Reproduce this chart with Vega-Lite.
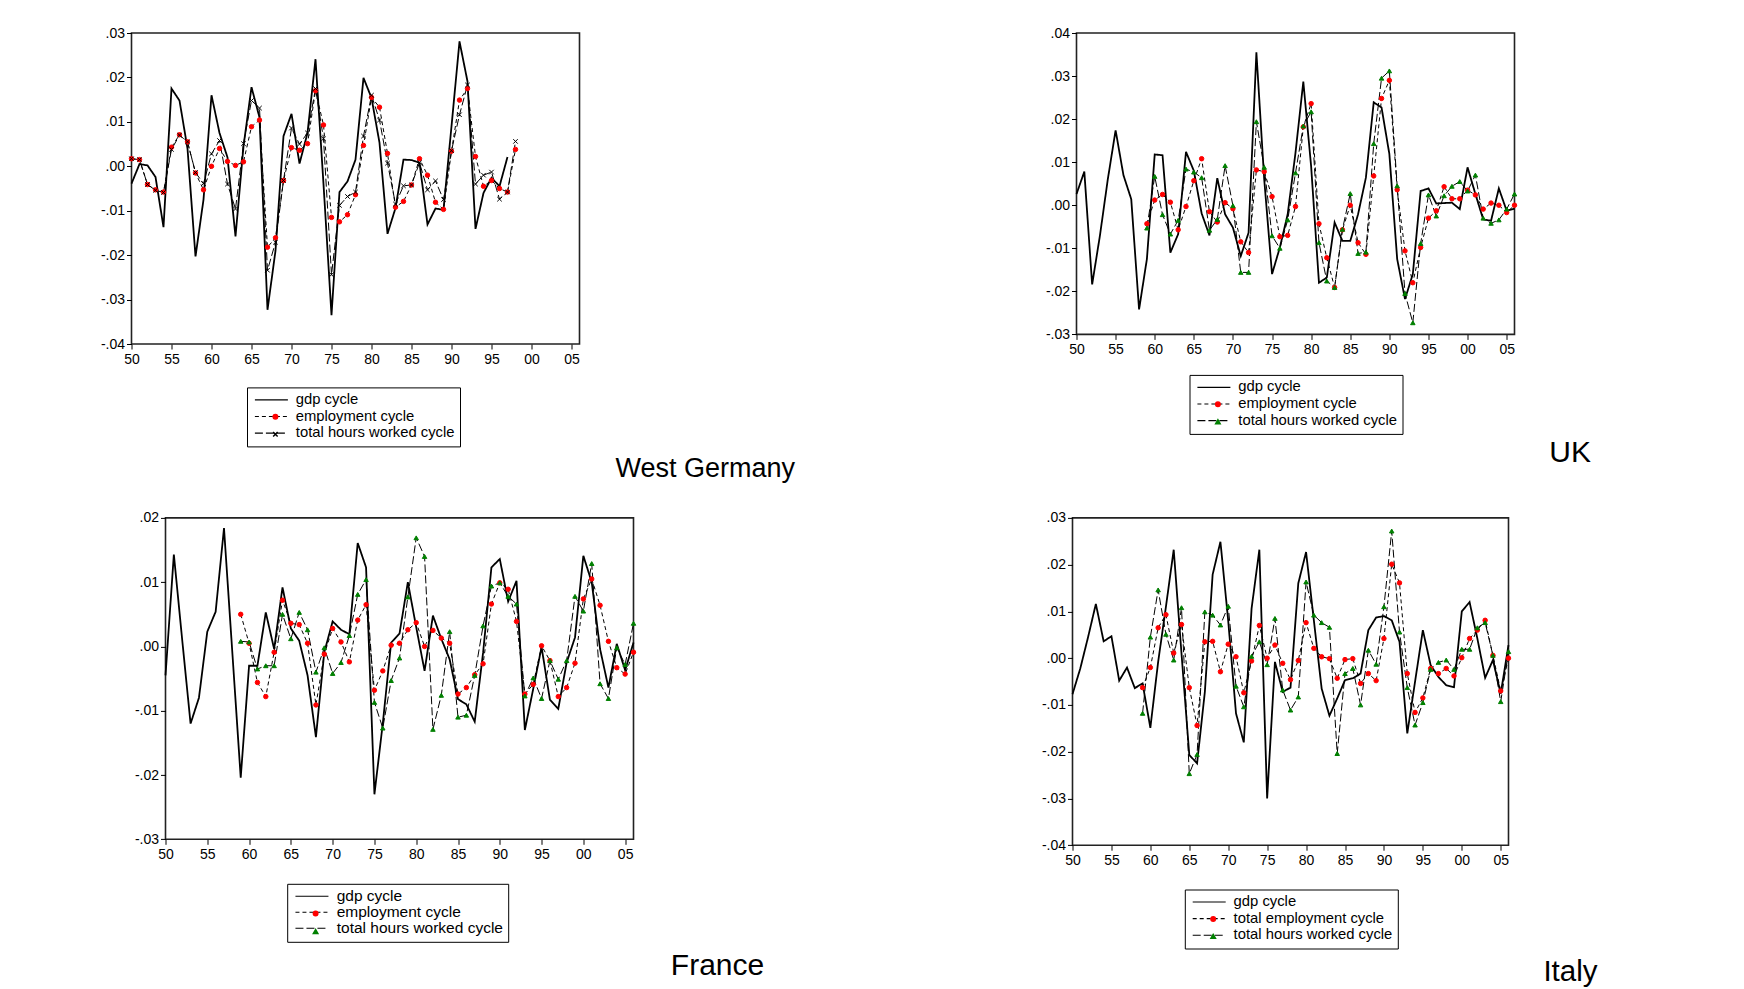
{
  "$schema": "https://vega.github.io/schema/vega-lite/v6.json",
  "padding": {"left": 89.5, "top": 25, "right": 5, "bottom": 0},
  "datasets": {
    "westGermany": [
      {"year":1950,"gdp cycle":-0.0039,"employment cycle":0.0017,"total hours worked cycle":0.0017},
      {"year":1951,"gdp cycle":0.0005,"employment cycle":0.0015,"total hours worked cycle":0.0015},
      {"year":1952,"gdp cycle":0.0002,"employment cycle":-0.0041,"total hours worked cycle":-0.0041},
      {"year":1953,"gdp cycle":-0.0024,"employment cycle":-0.0053,"total hours worked cycle":-0.0054},
      {"year":1954,"gdp cycle":-0.0137,"employment cycle":-0.0058,"total hours worked cycle":-0.0059},
      {"year":1955,"gdp cycle":0.0175,"employment cycle":0.0043,"total hours worked cycle":0.0038},
      {"year":1956,"gdp cycle":0.0148,"employment cycle":0.0071,"total hours worked cycle":0.0070},
      {"year":1957,"gdp cycle":0.0040,"employment cycle":0.0055,"total hours worked cycle":0.0055},
      {"year":1958,"gdp cycle":-0.0203,"employment cycle":-0.0015,"total hours worked cycle":-0.0014},
      {"year":1959,"gdp cycle":-0.0075,"employment cycle":-0.0053,"total hours worked cycle":-0.0039},
      {"year":1960,"gdp cycle":0.0160,"employment cycle":0.0000,"total hours worked cycle":0.0028},
      {"year":1961,"gdp cycle":0.0075,"employment cycle":0.0040,"total hours worked cycle":0.0058},
      {"year":1962,"gdp cycle":0.0020,"employment cycle":0.0011,"total hours worked cycle":-0.0040},
      {"year":1963,"gdp cycle":-0.0158,"employment cycle":0.0002,"total hours worked cycle":-0.0096},
      {"year":1964,"gdp cycle":0.0045,"employment cycle":0.0010,"total hours worked cycle":0.0051},
      {"year":1965,"gdp cycle":0.0178,"employment cycle":0.0089,"total hours worked cycle":0.0148},
      {"year":1966,"gdp cycle":0.0110,"employment cycle":0.0104,"total hours worked cycle":0.0131},
      {"year":1967,"gdp cycle":-0.0323,"employment cycle":-0.0182,"total hours worked cycle":-0.0234},
      {"year":1968,"gdp cycle":-0.0190,"employment cycle":-0.0161,"total hours worked cycle":-0.0171},
      {"year":1969,"gdp cycle":0.0068,"employment cycle":-0.0032,"total hours worked cycle":-0.0032},
      {"year":1970,"gdp cycle":0.0118,"employment cycle":0.0042,"total hours worked cycle":0.0086},
      {"year":1971,"gdp cycle":0.0006,"employment cycle":0.0036,"total hours worked cycle":0.0050},
      {"year":1972,"gdp cycle":0.0075,"employment cycle":0.0051,"total hours worked cycle":0.0075},
      {"year":1973,"gdp cycle":0.0241,"employment cycle":0.0170,"total hours worked cycle":0.0175},
      {"year":1974,"gdp cycle":-0.0040,"employment cycle":0.0093,"total hours worked cycle":0.0062},
      {"year":1975,"gdp cycle":-0.0335,"employment cycle":-0.0115,"total hours worked cycle":-0.0244},
      {"year":1976,"gdp cycle":-0.0058,"employment cycle":-0.0125,"total hours worked cycle":-0.0088},
      {"year":1977,"gdp cycle":-0.0034,"employment cycle":-0.0109,"total hours worked cycle":-0.0068},
      {"year":1978,"gdp cycle":0.0015,"employment cycle":-0.0064,"total hours worked cycle":-0.0058},
      {"year":1979,"gdp cycle":0.0199,"employment cycle":0.0047,"total hours worked cycle":0.0068},
      {"year":1980,"gdp cycle":0.0154,"employment cycle":0.0155,"total hours worked cycle":0.0160},
      {"year":1981,"gdp cycle":0.0053,"employment cycle":0.0133,"total hours worked cycle":0.0104},
      {"year":1982,"gdp cycle":-0.0152,"employment cycle":0.0029,"total hours worked cycle":0.0007},
      {"year":1983,"gdp cycle":-0.0094,"employment cycle":-0.0092,"total hours worked cycle":-0.0085},
      {"year":1984,"gdp cycle":0.0015,"employment cycle":-0.0079,"total hours worked cycle":-0.0044},
      {"year":1985,"gdp cycle":0.0014,"employment cycle":-0.0042,"total hours worked cycle":-0.0042},
      {"year":1986,"gdp cycle":0.0008,"employment cycle":0.0017,"total hours worked cycle":0.0008},
      {"year":1987,"gdp cycle":-0.0131,"employment cycle":-0.0020,"total hours worked cycle":-0.0053},
      {"year":1988,"gdp cycle":-0.0095,"employment cycle":-0.0081,"total hours worked cycle":-0.0033},
      {"year":1989,"gdp cycle":-0.0098,"employment cycle":-0.0097,"total hours worked cycle":-0.0075},
      {"year":1990,"gdp cycle":0.0090,"employment cycle":0.0034,"total hours worked cycle":0.0035},
      {"year":1991,"gdp cycle":0.0281,"employment cycle":0.0149,"total hours worked cycle":0.0116},
      {"year":1992,"gdp cycle":0.0191,"employment cycle":0.0175,"total hours worked cycle":0.0183},
      {"year":1993,"gdp cycle":-0.0141,"employment cycle":0.0022,"total hours worked cycle":-0.0040},
      {"year":1994,"gdp cycle":-0.0060,"employment cycle":-0.0045,"total hours worked cycle":-0.0020},
      {"year":1995,"gdp cycle":-0.0026,"employment cycle":-0.0032,"total hours worked cycle":-0.0013},
      {"year":1996,"gdp cycle":-0.0045,"employment cycle":-0.0050,"total hours worked cycle":-0.0074},
      {"year":1997,"gdp cycle":0.0021,"employment cycle":-0.0058,"total hours worked cycle":-0.0058},
      {"year":1998,"employment cycle":0.0038,"total hours worked cycle":0.0056}
    ],
    "uk": [
      {"year":1950,"gdp cycle":0.0026},
      {"year":1951,"gdp cycle":0.0078},
      {"year":1952,"gdp cycle":-0.0184},
      {"year":1953,"gdp cycle":-0.0070},
      {"year":1954,"gdp cycle":0.0060},
      {"year":1955,"gdp cycle":0.0174},
      {"year":1956,"gdp cycle":0.0070},
      {"year":1957,"gdp cycle":0.0014},
      {"year":1958,"gdp cycle":-0.0242},
      {"year":1959,"gdp cycle":-0.0125,"employment cycle":-0.0043,"total hours worked cycle":-0.0053},
      {"year":1960,"gdp cycle":0.0118,"employment cycle":0.0012,"total hours worked cycle":0.0067},
      {"year":1961,"gdp cycle":0.0116,"employment cycle":0.0025,"total hours worked cycle":-0.0022},
      {"year":1962,"gdp cycle":-0.0110,"employment cycle":0.0007,"total hours worked cycle":-0.0067},
      {"year":1963,"gdp cycle":-0.0067,"employment cycle":-0.0057,"total hours worked cycle":-0.0035},
      {"year":1964,"gdp cycle":0.0124,"employment cycle":-0.0003,"total hours worked cycle":0.0084},
      {"year":1965,"gdp cycle":0.0080,"employment cycle":0.0057,"total hours worked cycle":0.0077},
      {"year":1966,"gdp cycle":-0.0019,"employment cycle":0.0108,"total hours worked cycle":0.0064},
      {"year":1967,"gdp cycle":-0.0070,"employment cycle":-0.0015,"total hours worked cycle":-0.0058},
      {"year":1968,"gdp cycle":0.0063,"employment cycle":-0.0039,"total hours worked cycle":-0.0033},
      {"year":1969,"gdp cycle":-0.0021,"employment cycle":0.0006,"total hours worked cycle":0.0092},
      {"year":1970,"gdp cycle":-0.0052,"employment cycle":-0.0008,"total hours worked cycle":-0.0001},
      {"year":1971,"gdp cycle":-0.0118,"employment cycle":-0.0085,"total hours worked cycle":-0.0156},
      {"year":1972,"gdp cycle":-0.0064,"employment cycle":-0.0110,"total hours worked cycle":-0.0156},
      {"year":1973,"gdp cycle":0.0355,"employment cycle":0.0082,"total hours worked cycle":0.0194},
      {"year":1974,"gdp cycle":0.0060,"employment cycle":0.0078,"total hours worked cycle":0.0088},
      {"year":1975,"gdp cycle":-0.0160,"employment cycle":0.0020,"total hours worked cycle":-0.0071},
      {"year":1976,"gdp cycle":-0.0098,"employment cycle":-0.0073,"total hours worked cycle":-0.0100},
      {"year":1977,"gdp cycle":-0.0021,"employment cycle":-0.0070,"total hours worked cycle":-0.0034},
      {"year":1978,"gdp cycle":0.0122,"employment cycle":-0.0003,"total hours worked cycle":0.0075},
      {"year":1979,"gdp cycle":0.0287,"employment cycle":0.0182,"total hours worked cycle":0.0184},
      {"year":1980,"gdp cycle":0.0090,"employment cycle":0.0236,"total hours worked cycle":0.0217},
      {"year":1981,"gdp cycle":-0.0180,"employment cycle":-0.0043,"total hours worked cycle":-0.0087},
      {"year":1982,"gdp cycle":-0.0168,"employment cycle":-0.0122,"total hours worked cycle":-0.0176},
      {"year":1983,"gdp cycle":-0.0040,"employment cycle":-0.0191,"total hours worked cycle":-0.0191},
      {"year":1984,"gdp cycle":-0.0083,"employment cycle":-0.0057,"total hours worked cycle":-0.0056},
      {"year":1985,"gdp cycle":-0.0083,"employment cycle":0.0000,"total hours worked cycle":0.0027},
      {"year":1986,"gdp cycle":-0.0021,"employment cycle":-0.0087,"total hours worked cycle":-0.0112},
      {"year":1987,"gdp cycle":0.0064,"employment cycle":-0.0114,"total hours worked cycle":-0.0109},
      {"year":1988,"gdp cycle":0.0239,"employment cycle":0.0068,"total hours worked cycle":0.0143},
      {"year":1989,"gdp cycle":0.0227,"employment cycle":0.0248,"total hours worked cycle":0.0295},
      {"year":1990,"gdp cycle":0.0119,"employment cycle":0.0290,"total hours worked cycle":0.0312},
      {"year":1991,"gdp cycle":-0.0125,"employment cycle":0.0036,"total hours worked cycle":0.0045},
      {"year":1992,"gdp cycle":-0.0218,"employment cycle":-0.0106,"total hours worked cycle":-0.0205},
      {"year":1993,"gdp cycle":-0.0160,"employment cycle":-0.0180,"total hours worked cycle":-0.0273},
      {"year":1994,"gdp cycle":0.0033,"employment cycle":-0.0098,"total hours worked cycle":-0.0089},
      {"year":1995,"gdp cycle":0.0039,"employment cycle":-0.0030,"total hours worked cycle":0.0024},
      {"year":1996,"gdp cycle":0.0004,"employment cycle":-0.0013,"total hours worked cycle":-0.0025},
      {"year":1997,"gdp cycle":0.0005,"employment cycle":0.0043,"total hours worked cycle":0.0022},
      {"year":1998,"gdp cycle":0.0006,"employment cycle":0.0015,"total hours worked cycle":0.0044},
      {"year":1999,"gdp cycle":-0.0009,"employment cycle":0.0015,"total hours worked cycle":0.0055},
      {"year":2000,"gdp cycle":0.0088,"employment cycle":0.0035,"total hours worked cycle":0.0033},
      {"year":2001,"gdp cycle":0.0026,"employment cycle":0.0024,"total hours worked cycle":0.0070},
      {"year":2002,"gdp cycle":-0.0033,"employment cycle":-0.0009,"total hours worked cycle":-0.0030},
      {"year":2003,"gdp cycle":-0.0036,"employment cycle":0.0005,"total hours worked cycle":-0.0042},
      {"year":2004,"gdp cycle":0.0039,"employment cycle":0.0000,"total hours worked cycle":-0.0034},
      {"year":2005,"gdp cycle":-0.0013,"employment cycle":-0.0017,"total hours worked cycle":-0.0009},
      {"year":2006,"gdp cycle":-0.0008,"employment cycle":0.0000,"total hours worked cycle":0.0026}
    ],
    "france": [
      {"year":1950,"gdp cycle":-0.0045},
      {"year":1951,"gdp cycle":0.0143},
      {"year":1952,"gdp cycle":0.0010},
      {"year":1953,"gdp cycle":-0.0120},
      {"year":1954,"gdp cycle":-0.0080},
      {"year":1955,"gdp cycle":0.0023},
      {"year":1956,"gdp cycle":0.0054},
      {"year":1957,"gdp cycle":0.0184},
      {"year":1958,"gdp cycle":-0.0010},
      {"year":1959,"gdp cycle":-0.0204,"employment cycle":0.0050,"total hours worked cycle":0.0008},
      {"year":1960,"gdp cycle":-0.0030,"employment cycle":0.0005,"total hours worked cycle":0.0007},
      {"year":1961,"gdp cycle":-0.0030,"employment cycle":-0.0056,"total hours worked cycle":-0.0035},
      {"year":1962,"gdp cycle":0.0053,"employment cycle":-0.0078,"total hours worked cycle":-0.0030},
      {"year":1963,"gdp cycle":-0.0004,"employment cycle":-0.0009,"total hours worked cycle":-0.0030},
      {"year":1964,"gdp cycle":0.0092,"employment cycle":0.0072,"total hours worked cycle":0.0050},
      {"year":1965,"gdp cycle":0.0028,"employment cycle":0.0036,"total hours worked cycle":0.0012},
      {"year":1966,"gdp cycle":0.0009,"employment cycle":0.0034,"total hours worked cycle":0.0053},
      {"year":1967,"gdp cycle":-0.0045,"employment cycle":0.0005,"total hours worked cycle":0.0026},
      {"year":1968,"gdp cycle":-0.0141,"employment cycle":-0.0091,"total hours worked cycle":-0.0040},
      {"year":1969,"gdp cycle":-0.0009,"employment cycle":-0.0012,"total hours worked cycle":-0.0002},
      {"year":1970,"gdp cycle":0.0039,"employment cycle":0.0028,"total hours worked cycle":-0.0042},
      {"year":1971,"gdp cycle":0.0026,"employment cycle":0.0007,"total hours worked cycle":-0.0025},
      {"year":1972,"gdp cycle":0.0019,"employment cycle":-0.0024,"total hours worked cycle":0.0017},
      {"year":1973,"gdp cycle":0.0161,"employment cycle":0.0041,"total hours worked cycle":0.0081},
      {"year":1974,"gdp cycle":0.0123,"employment cycle":0.0065,"total hours worked cycle":0.0104},
      {"year":1975,"gdp cycle":-0.0230,"employment cycle":-0.0068,"total hours worked cycle":-0.0087},
      {"year":1976,"gdp cycle":-0.0120,"employment cycle":-0.0038,"total hours worked cycle":-0.0127},
      {"year":1977,"gdp cycle":0.0006,"employment cycle":0.0002,"total hours worked cycle":-0.0053},
      {"year":1978,"gdp cycle":0.0020,"employment cycle":0.0005,"total hours worked cycle":-0.0018},
      {"year":1979,"gdp cycle":0.0100,"employment cycle":0.0026,"total hours worked cycle":0.0077},
      {"year":1980,"gdp cycle":0.0030,"employment cycle":0.0037,"total hours worked cycle":0.0169},
      {"year":1981,"gdp cycle":-0.0038,"employment cycle":0.0000,"total hours worked cycle":0.0140},
      {"year":1982,"gdp cycle":0.0048,"employment cycle":0.0025,"total hours worked cycle":-0.0129},
      {"year":1983,"gdp cycle":0.0012,"employment cycle":0.0013,"total hours worked cycle":-0.0076},
      {"year":1984,"gdp cycle":-0.0020,"employment cycle":0.0005,"total hours worked cycle":0.0023},
      {"year":1985,"gdp cycle":-0.0082,"employment cycle":-0.0074,"total hours worked cycle":-0.0110},
      {"year":1986,"gdp cycle":-0.0090,"employment cycle":-0.0064,"total hours worked cycle":-0.0107},
      {"year":1987,"gdp cycle":-0.0117,"employment cycle":-0.0044,"total hours worked cycle":-0.0045},
      {"year":1988,"gdp cycle":-0.0010,"employment cycle":-0.0027,"total hours worked cycle":0.0032},
      {"year":1989,"gdp cycle":0.0123,"employment cycle":0.0066,"total hours worked cycle":0.0094},
      {"year":1990,"gdp cycle":0.0136,"employment cycle":0.0099,"total hours worked cycle":0.0099},
      {"year":1991,"gdp cycle":0.0070,"employment cycle":0.0089,"total hours worked cycle":0.0078},
      {"year":1992,"gdp cycle":0.0102,"employment cycle":0.0039,"total hours worked cycle":0.0066},
      {"year":1993,"gdp cycle":-0.0130,"employment cycle":-0.0074,"total hours worked cycle":-0.0077},
      {"year":1994,"gdp cycle":-0.0066,"employment cycle":-0.0059,"total hours worked cycle":-0.0049},
      {"year":1995,"gdp cycle":-0.0001,"employment cycle":0.0001,"total hours worked cycle":-0.0081},
      {"year":1996,"gdp cycle":-0.0083,"employment cycle":-0.0022,"total hours worked cycle":-0.0022},
      {"year":1997,"gdp cycle":-0.0097,"employment cycle":-0.0078,"total hours worked cycle":-0.0051},
      {"year":1998,"gdp cycle":-0.0025,"employment cycle":-0.0064,"total hours worked cycle":-0.0022},
      {"year":1999,"gdp cycle":0.0014,"employment cycle":-0.0026,"total hours worked cycle":0.0078},
      {"year":2000,"gdp cycle":0.0141,"employment cycle":0.0074,"total hours worked cycle":0.0055},
      {"year":2001,"gdp cycle":0.0100,"employment cycle":0.0105,"total hours worked cycle":0.0129},
      {"year":2002,"gdp cycle":-0.0004,"employment cycle":0.0064,"total hours worked cycle":-0.0058},
      {"year":2003,"gdp cycle":-0.0064,"employment cycle":0.0008,"total hours worked cycle":-0.0081},
      {"year":2004,"gdp cycle":0.0004,"employment cycle":-0.0033,"total hours worked cycle":-0.0002},
      {"year":2005,"gdp cycle":-0.0037,"employment cycle":-0.0043,"total hours worked cycle":-0.0028},
      {"year":2006,"gdp cycle":0.0006,"employment cycle":-0.0009,"total hours worked cycle":0.0036}
    ],
    "italy": [
      {"year":1950,"gdp cycle":-0.0077},
      {"year":1951,"gdp cycle":-0.0022},
      {"year":1952,"gdp cycle":0.0045},
      {"year":1953,"gdp cycle":0.0116},
      {"year":1954,"gdp cycle":0.0036},
      {"year":1955,"gdp cycle":0.0047},
      {"year":1956,"gdp cycle":-0.0048},
      {"year":1957,"gdp cycle":-0.0020},
      {"year":1958,"gdp cycle":-0.0064},
      {"year":1959,"gdp cycle":-0.0054,"total employment cycle":-0.0063,"total hours worked cycle":-0.0118},
      {"year":1960,"gdp cycle":-0.0149,"total employment cycle":-0.0020,"total hours worked cycle":0.0045},
      {"year":1961,"gdp cycle":-0.0008,"total employment cycle":0.0065,"total hours worked cycle":0.0146},
      {"year":1962,"gdp cycle":0.0110,"total employment cycle":0.0093,"total hours worked cycle":0.0051},
      {"year":1963,"gdp cycle":0.0232,"total employment cycle":0.0011,"total hours worked cycle":-0.0004},
      {"year":1964,"gdp cycle":0.0010,"total employment cycle":0.0072,"total hours worked cycle":0.0108},
      {"year":1965,"gdp cycle":-0.0207,"total employment cycle":-0.0063,"total hours worked cycle":-0.0247},
      {"year":1966,"gdp cycle":-0.0225,"total employment cycle":-0.0144,"total hours worked cycle":-0.0206},
      {"year":1967,"gdp cycle":-0.0072,"total employment cycle":0.0035,"total hours worked cycle":0.0099},
      {"year":1968,"gdp cycle":0.0179,"total employment cycle":0.0036,"total hours worked cycle":0.0092},
      {"year":1969,"gdp cycle":0.0249,"total employment cycle":-0.0029,"total hours worked cycle":0.0071},
      {"year":1970,"gdp cycle":0.0080,"total employment cycle":0.0030,"total hours worked cycle":0.0111},
      {"year":1971,"gdp cycle":-0.0118,"total employment cycle":0.0003,"total hours worked cycle":-0.0060},
      {"year":1972,"gdp cycle":-0.0180,"total employment cycle":-0.0074,"total hours worked cycle":-0.0104},
      {"year":1973,"gdp cycle":0.0106,"total employment cycle":-0.0006,"total hours worked cycle":0.0004},
      {"year":1974,"gdp cycle":0.0232,"total employment cycle":0.0070,"total hours worked cycle":0.0035},
      {"year":1975,"gdp cycle":-0.0300,"total employment cycle":0.0000,"total hours worked cycle":-0.0014},
      {"year":1976,"gdp cycle":-0.0008,"total employment cycle":0.0028,"total hours worked cycle":0.0085},
      {"year":1977,"gdp cycle":-0.0072,"total employment cycle":-0.0011,"total hours worked cycle":-0.0068},
      {"year":1978,"gdp cycle":-0.0063,"total employment cycle":-0.0046,"total hours worked cycle":-0.0111},
      {"year":1979,"gdp cycle":0.0160,"total employment cycle":-0.0005,"total hours worked cycle":-0.0083},
      {"year":1980,"gdp cycle":0.0227,"total employment cycle":0.0076,"total hours worked cycle":0.0163},
      {"year":1981,"gdp cycle":0.0081,"total employment cycle":0.0021,"total hours worked cycle":0.0092},
      {"year":1982,"gdp cycle":-0.0065,"total employment cycle":0.0003,"total hours worked cycle":0.0076},
      {"year":1983,"gdp cycle":-0.0123,"total employment cycle":-0.0001,"total hours worked cycle":0.0066},
      {"year":1984,"gdp cycle":-0.0086,"total employment cycle":-0.0043,"total hours worked cycle":-0.0204},
      {"year":1985,"gdp cycle":-0.0047,"total employment cycle":-0.0003,"total hours worked cycle":-0.0033},
      {"year":1986,"gdp cycle":-0.0043,"total employment cycle":-0.0001,"total hours worked cycle":-0.0022},
      {"year":1987,"gdp cycle":-0.0033,"total employment cycle":-0.0054,"total hours worked cycle":-0.0100},
      {"year":1988,"gdp cycle":0.0060,"total employment cycle":-0.0033,"total hours worked cycle":0.0017},
      {"year":1989,"gdp cycle":0.0087,"total employment cycle":-0.0048,"total hours worked cycle":-0.0013},
      {"year":1990,"gdp cycle":0.0090,"total employment cycle":0.0042,"total hours worked cycle":0.0110},
      {"year":1991,"gdp cycle":0.0081,"total employment cycle":0.0201,"total hours worked cycle":0.0272},
      {"year":1992,"gdp cycle":0.0035,"total employment cycle":0.0161,"total hours worked cycle":0.0056},
      {"year":1993,"gdp cycle":-0.0161,"total employment cycle":-0.0033,"total hours worked cycle":-0.0063},
      {"year":1994,"gdp cycle":-0.0050,"total employment cycle":-0.0116,"total hours worked cycle":-0.0143},
      {"year":1995,"gdp cycle":0.0060,"total employment cycle":-0.0085,"total hours worked cycle":-0.0095},
      {"year":1996,"gdp cycle":-0.0015,"total employment cycle":-0.0022,"total hours worked cycle":-0.0024},
      {"year":1997,"gdp cycle":-0.0040,"total employment cycle":-0.0033,"total hours worked cycle":-0.0009},
      {"year":1998,"gdp cycle":-0.0058,"total employment cycle":-0.0022,"total hours worked cycle":-0.0004},
      {"year":1999,"gdp cycle":-0.0062,"total employment cycle":-0.0038,"total hours worked cycle":-0.0024},
      {"year":2000,"gdp cycle":0.0100,"total employment cycle":0.0001,"total hours worked cycle":0.0019},
      {"year":2001,"gdp cycle":0.0120,"total employment cycle":0.0042,"total hours worked cycle":0.0019},
      {"year":2002,"gdp cycle":0.0042,"total employment cycle":0.0060,"total hours worked cycle":0.0065},
      {"year":2003,"gdp cycle":-0.0042,"total employment cycle":0.0081,"total hours worked cycle":0.0076},
      {"year":2004,"gdp cycle":-0.0004,"total employment cycle":0.0006,"total hours worked cycle":0.0006},
      {"year":2005,"gdp cycle":-0.0076,"total employment cycle":-0.0070,"total hours worked cycle":-0.0093},
      {"year":2006,"gdp cycle":0.0028,"total employment cycle":0.0000,"total hours worked cycle":0.0014}
    ]
  },
  "columns": 3,
  "align": "none",
  "spacing": {"row": 26.9, "column": 0},
  "resolve": {
    "scale": {"strokeDash": "independent", "shape": "independent", "fill": "independent", "stroke": "independent"},
    "legend": {"strokeDash": "independent", "shape": "independent", "fill": "independent", "stroke": "independent"}
  },
  "concat": [
    {
      "width": 1, "height": 1,
      "data": {"values": []},
      "mark": {"type": "point"},
      "view": {"stroke": null}
    },
    {
      "width": 448, "height": 311,
      "data": {"name": "westGermany"},
      "transform": [{"fold": ["gdp cycle", "employment cycle", "total hours worked cycle"], "as": ["series", "value"]}],
      "title": {"text": "West Germany", "orient": "bottom", "anchor": "end", "frame": "group", "offset": 29.8, "dx": 215.5, "baseline": "alphabetic", "fontSize": 27},
      "encoding": {
        "x": {"field": "year", "type": "quantitative", "scale": {"domain": [1950, 2006], "nice": false, "zero": false},
              "axis": {"title": null, "values": [1950,1955,1960,1965,1970,1975,1980,1985,1990,1995,2000,2005], "labelExpr": "slice(toString(datum.value), 2)"}},
        "y": {"field": "value", "type": "quantitative", "scale": {"domain": [-0.04, 0.03], "nice": false, "zero": false},
              "axis": {"title": null, "minExtent": 40, "values": [-0.04,-0.03,-0.02,-0.01,0,0.01,0.02,0.03], "labelExpr": "(datum.value < 0 ? '-' : '') + replace(format(abs(datum.value), '.2f'), '0.', '.')"}}
      },
      "layer": [
        {
          "mark": {"type": "line", "color": "#000000"},
          "encoding": {
            "strokeDash": {"field": "series", "type": "nominal",
              "scale": {"domain": ["gdp cycle", "employment cycle", "total hours worked cycle"], "range": [[1, 0], [4, 3], [8, 3]]},
              "legend": {"title": null, "orient": "none", "legendX": 115.5, "legendY": 354.4, "strokeColor": "#000000", "symbolType": "M-2.75,0L2.75,0", "symbolSize": 144, "symbolStrokeColor": "#000000", "symbolStrokeWidth": 1.1, "symbolFillColor": "transparent", "symbolOffset": 12, "labelOffset": 17, "clipHeight": 15, "rowPadding": 0.6}},
            "strokeWidth": {"condition": {"test": "datum.series === 'gdp cycle'", "value": 1.8}, "value": 1}
          }
        },
        {
          "transform": [{"filter": {"field": "series", "oneOf": ["employment cycle", "total hours worked cycle"]}}],
          "mark": {"type": "point", "size": 20, "opacity": 1, "strokeWidth": 1},
          "encoding": {
            "shape": {"field": "series", "type": "nominal",
              "scale": {"domain": ["employment cycle", "total hours worked cycle"], "range": ["circle", "M-1,-1L1,1M-1,1L1,-1"]},
              "legend": {"title": null, "orient": "none", "legendX": 115.5, "legendY": 371.3, "symbolSize": 20, "symbolOffset": 16, "labelExpr": "''", "clipHeight": 15, "rowPadding": 1.5}},
            "fill": {"field": "series", "type": "nominal", "scale": {"domain": ["employment cycle", "total hours worked cycle"], "range": ["#ff0000", "transparent"]}},
            "stroke": {"field": "series", "type": "nominal", "scale": {"domain": ["employment cycle", "total hours worked cycle"], "range": ["#ff0000", "#000000"]}}
          }
        }
      ]
    },
    {
      "width": 438, "height": 301.4,
      "data": {"name": "uk"},
      "transform": [{"fold": ["gdp cycle", "employment cycle", "total hours worked cycle"], "as": ["series", "value"]}],
      "title": {"text": "UK", "orient": "bottom", "anchor": "end", "frame": "group", "offset": 26.7, "dx": 76.5, "baseline": "alphabetic", "fontSize": 30},
      "encoding": {
        "x": {"field": "year", "type": "quantitative", "scale": {"domain": [1950, 2006], "nice": false, "zero": false},
              "axis": {"title": null, "values": [1950,1955,1960,1965,1970,1975,1980,1985,1990,1995,2000,2005], "labelExpr": "slice(toString(datum.value), 2)"}},
        "y": {"field": "value", "type": "quantitative", "scale": {"domain": [-0.03, 0.04], "nice": false, "zero": false},
              "axis": {"title": null, "minExtent": 279, "values": [-0.03,-0.02,-0.01,0,0.01,0.02,0.03,0.04], "labelExpr": "(datum.value < 0 ? '-' : '') + replace(format(abs(datum.value), '.2f'), '0.', '.')"}}
      },
      "layer": [
        {
          "mark": {"type": "line", "color": "#000000"},
          "encoding": {
            "strokeDash": {"field": "series", "type": "nominal",
              "scale": {"domain": ["gdp cycle", "employment cycle", "total hours worked cycle"], "range": [[1, 0], [4, 3], [8, 3]]},
              "legend": {"title": null, "orient": "none", "legendX": 113, "legendY": 341.9, "strokeColor": "#000000", "symbolType": "M-2.75,0L2.75,0", "symbolSize": 144, "symbolStrokeColor": "#000000", "symbolStrokeWidth": 1.1, "symbolFillColor": "transparent", "symbolOffset": 12, "labelOffset": 17, "clipHeight": 15, "rowPadding": 0.6}},
            "strokeWidth": {"condition": {"test": "datum.series === 'gdp cycle'", "value": 1.8}, "value": 1}
          }
        },
        {
          "transform": [{"filter": {"field": "series", "oneOf": ["employment cycle", "total hours worked cycle"]}}],
          "mark": {"type": "point", "size": 20, "opacity": 1, "strokeWidth": 1},
          "encoding": {
            "shape": {"field": "series", "type": "nominal",
              "scale": {"domain": ["employment cycle", "total hours worked cycle"], "range": ["circle", "triangle-up"]},
              "legend": {"title": null, "orient": "none", "legendX": 113, "legendY": 358.8, "symbolSize": 20, "symbolOffset": 16, "labelExpr": "''", "clipHeight": 15, "rowPadding": 1.5}},
            "fill": {"field": "series", "type": "nominal", "scale": {"domain": ["employment cycle", "total hours worked cycle"], "range": ["#ff0000", "#008000"]}},
            "stroke": {"field": "series", "type": "nominal", "scale": {"domain": ["employment cycle", "total hours worked cycle"], "range": ["#ff0000", "#008000"]}}
          }
        }
      ]
    },
    {
      "width": 1, "height": 1,
      "data": {"values": []},
      "mark": {"type": "point"},
      "view": {"stroke": null}
    },
    {
      "width": 468, "height": 321.4,
      "data": {"name": "france"},
      "transform": [{"fold": ["gdp cycle", "employment cycle", "total hours worked cycle"], "as": ["series", "value"]}],
      "title": {"text": "France", "orient": "bottom", "anchor": "end", "frame": "group", "offset": 30.4, "dx": 130.7, "baseline": "alphabetic", "fontSize": 30},
      "encoding": {
        "x": {"field": "year", "type": "quantitative", "scale": {"domain": [1950, 2006], "nice": false, "zero": false},
              "axis": {"title": null, "values": [1950,1955,1960,1965,1970,1975,1980,1985,1990,1995,2000,2005], "labelExpr": "slice(toString(datum.value), 2)"}},
        "y": {"field": "value", "type": "quantitative", "scale": {"domain": [-0.03, 0.02], "nice": false, "zero": false},
              "axis": {"title": null, "minExtent": 73.8, "values": [-0.03,-0.02,-0.01,0,0.01,0.02], "labelExpr": "(datum.value < 0 ? '-' : '') + replace(format(abs(datum.value), '.2f'), '0.', '.')"}}
      },
      "layer": [
        {
          "mark": {"type": "line", "color": "#000000"},
          "encoding": {
            "strokeDash": {"field": "series", "type": "nominal",
              "scale": {"domain": ["gdp cycle", "employment cycle", "total hours worked cycle"], "range": [[1, 0], [4, 3], [8, 3]]},
              "legend": {"title": null, "orient": "none", "legendX": 121.7, "legendY": 365.9, "strokeColor": "#000000", "symbolType": "M-2.75,0L2.75,0", "symbolSize": 144, "symbolStrokeColor": "#000000", "symbolStrokeWidth": 1.1, "symbolFillColor": "transparent", "symbolOffset": 12, "labelOffset": 17, "clipHeight": 15, "rowPadding": 0, "labelFontSize": 15.5}},
            "strokeWidth": {"condition": {"test": "datum.series === 'gdp cycle'", "value": 1.8}, "value": 1}
          }
        },
        {
          "transform": [{"filter": {"field": "series", "oneOf": ["employment cycle", "total hours worked cycle"]}}],
          "mark": {"type": "point", "size": 20, "opacity": 1, "strokeWidth": 1},
          "encoding": {
            "shape": {"field": "series", "type": "nominal",
              "scale": {"domain": ["employment cycle", "total hours worked cycle"], "range": ["circle", "triangle-up"]},
              "legend": {"title": null, "orient": "none", "legendX": 121.7, "legendY": 383.2, "symbolSize": 20, "symbolOffset": 16, "labelExpr": "''", "clipHeight": 15, "rowPadding": 1.9}},
            "fill": {"field": "series", "type": "nominal", "scale": {"domain": ["employment cycle", "total hours worked cycle"], "range": ["#ff0000", "#008000"]}},
            "stroke": {"field": "series", "type": "nominal", "scale": {"domain": ["employment cycle", "total hours worked cycle"], "range": ["#ff0000", "#008000"]}}
          }
        }
      ]
    },
    {
      "width": 436, "height": 327.3,
      "data": {"name": "italy"},
      "transform": [{"fold": ["gdp cycle", "total employment cycle", "total hours worked cycle"], "as": ["series", "value"]}],
      "title": {"text": "Italy", "orient": "bottom", "anchor": "end", "frame": "group", "offset": 32, "dx": 89, "baseline": "alphabetic", "fontSize": 29.5},
      "encoding": {
        "x": {"field": "year", "type": "quantitative", "scale": {"domain": [1950, 2006], "nice": false, "zero": false},
              "axis": {"title": null, "values": [1950,1955,1960,1965,1970,1975,1980,1985,1990,1995,2000,2005], "labelExpr": "slice(toString(datum.value), 2)"}},
        "y": {"field": "value", "type": "quantitative", "scale": {"domain": [-0.04, 0.03], "nice": false, "zero": false},
              "axis": {"title": null, "minExtent": 240.6, "values": [-0.04,-0.03,-0.02,-0.01,0,0.01,0.02,0.03], "labelExpr": "(datum.value < 0 ? '-' : '') + replace(format(abs(datum.value), '.2f'), '0.', '.')"}}
      },
      "layer": [
        {
          "mark": {"type": "line", "color": "#000000"},
          "encoding": {
            "strokeDash": {"field": "series", "type": "nominal",
              "scale": {"domain": ["gdp cycle", "total employment cycle", "total hours worked cycle"], "range": [[1, 0], [4, 3], [8, 3]]},
              "legend": {"title": null, "orient": "none", "legendX": 112.3, "legendY": 371.6, "strokeColor": "#000000", "symbolType": "M-2.75,0L2.75,0", "symbolSize": 144, "symbolStrokeColor": "#000000", "symbolStrokeWidth": 1.1, "symbolFillColor": "transparent", "symbolOffset": 12, "labelOffset": 17, "clipHeight": 15, "rowPadding": 0.6}},
            "strokeWidth": {"condition": {"test": "datum.series === 'gdp cycle'", "value": 1.8}, "value": 1}
          }
        },
        {
          "transform": [{"filter": {"field": "series", "oneOf": ["total employment cycle", "total hours worked cycle"]}}],
          "mark": {"type": "point", "size": 20, "opacity": 1, "strokeWidth": 1},
          "encoding": {
            "shape": {"field": "series", "type": "nominal",
              "scale": {"domain": ["total employment cycle", "total hours worked cycle"], "range": ["circle", "triangle-up"]},
              "legend": {"title": null, "orient": "none", "legendX": 112.3, "legendY": 388.5, "symbolSize": 20, "symbolOffset": 16, "labelExpr": "''", "clipHeight": 15, "rowPadding": 1.5}},
            "fill": {"field": "series", "type": "nominal", "scale": {"domain": ["total employment cycle", "total hours worked cycle"], "range": ["#ff0000", "#008000"]}},
            "stroke": {"field": "series", "type": "nominal", "scale": {"domain": ["total employment cycle", "total hours worked cycle"], "range": ["#ff0000", "#008000"]}}
          }
        }
      ]
    }
  ],
  "config": {
    "font": "Liberation Sans",
    "background": "white",
    "view": {"stroke": "#222222", "strokeWidth": 1.6},
    "axis": {"domain": false, "grid": false, "labelFont": "Liberation Sans", "labelFontSize": 14, "labelColor": "#000000", "tickColor": "#000000", "tickSize": 5, "tickWidth": 1, "labelOverlap": false, "labelFlush": false},
    "axisX": {"labelPadding": 3},
    "axisY": {"labelPadding": 2},
    "legend": {"labelFont": "Liberation Sans", "labelFontSize": 14.8, "labelColor": "#000000", "labelLimit": 400, "padding": 5, "direction": "vertical"},
    "title": {"font": "Liberation Sans", "fontSize": 27, "fontWeight": "normal", "color": "#000000"}
  }
}
